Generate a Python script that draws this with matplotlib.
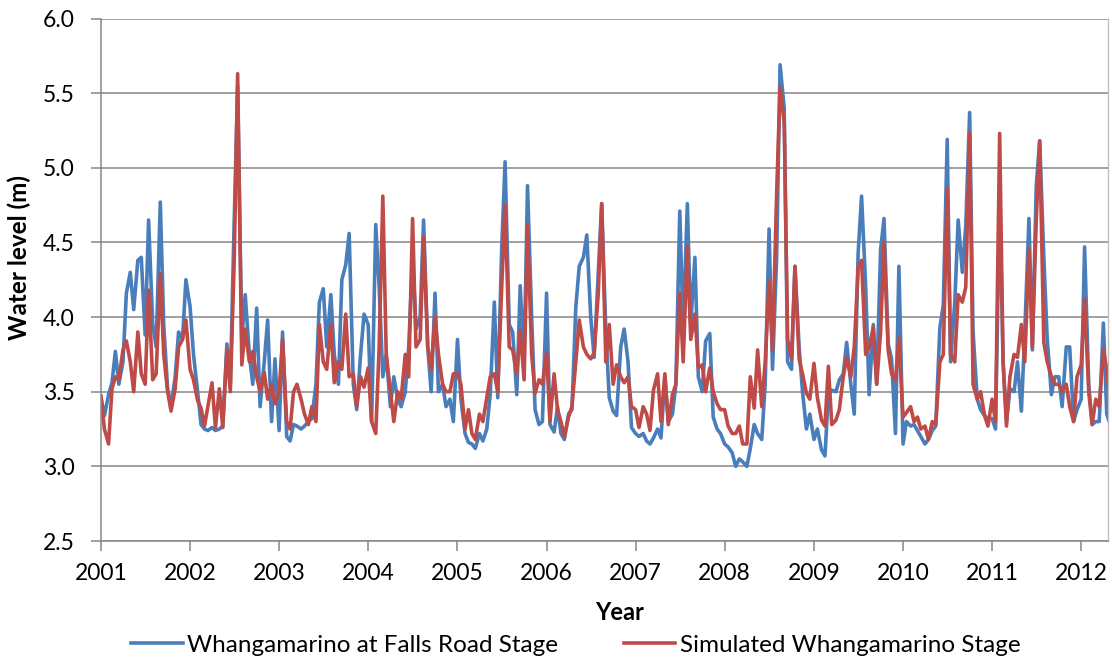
import numpy as np
import pandas as pd
import matplotlib
matplotlib.use("Agg")
import matplotlib.pyplot as plt
import matplotlib.dates as mdates
from matplotlib.ticker import FormatStrFormatter

plt.rcParams['font.family'] = ['Lato', 'DejaVu Sans']

# semi-monthly stage readings (m), 1st and 15th of each month from Jan 2001
observed = [
    3.46, 3.34, 3.48, 3.56, 3.77, 3.55, 3.70, 4.16, 4.30, 4.05, 4.38, 4.40, 3.88, 4.65, 3.95, 3.80, 4.77, 3.95, 3.52, 3.40, 3.60, 3.90, 3.85, 4.25,
    4.07, 3.75, 3.50, 3.28, 3.25, 3.24, 3.26, 3.24, 3.25, 3.27, 3.82, 3.55, 4.65, 5.55, 3.85, 4.15, 3.75, 3.55, 4.06, 3.40, 3.70, 3.98, 3.30, 3.72,
    3.24, 3.90, 3.20, 3.17, 3.28, 3.27, 3.25, 3.27, 3.30, 3.32, 3.55, 4.10, 4.19, 3.80, 4.15, 3.75, 3.55, 4.25, 4.35, 4.56, 3.55, 3.38, 3.75, 4.02,
    3.95, 3.30, 4.62, 4.20, 3.60, 3.75, 3.40, 3.60, 3.45, 3.40, 3.50, 3.80, 4.40, 3.92, 4.00, 4.65, 3.80, 3.50, 4.16, 3.50, 3.55, 3.40, 3.45, 3.30,
    3.85, 3.45, 3.22, 3.16, 3.15, 3.12, 3.22, 3.17, 3.25, 3.48, 4.10, 3.46, 4.45, 5.04, 3.95, 3.90, 3.48, 4.21, 3.70, 4.88, 4.00, 3.38, 3.28, 3.30,
    4.16, 3.28, 3.23, 3.40, 3.22, 3.18, 3.35, 3.38, 4.07, 4.34, 4.40, 4.55, 4.00, 3.73, 4.29, 4.76, 3.90, 3.46, 3.37, 3.34, 3.80, 3.92, 3.70, 3.26,
    3.22, 3.20, 3.22, 3.17, 3.15, 3.19, 3.25, 3.19, 3.60, 3.30, 3.35, 3.55, 4.71, 3.90, 4.76, 3.95, 4.40, 3.60, 3.50, 3.84, 3.89, 3.33, 3.25, 3.22,
    3.15, 3.13, 3.09, 3.00, 3.05, 3.03, 3.00, 3.12, 3.28, 3.22, 3.18, 3.55, 4.59, 3.65, 4.40, 5.69, 5.40, 3.70, 3.65, 4.34, 3.80, 3.50, 3.25, 3.35,
    3.18, 3.25, 3.11, 3.07, 3.48, 3.51, 3.50, 3.58, 3.62, 3.83, 3.55, 3.35, 4.43, 4.81, 4.20, 3.48, 3.95, 3.55, 4.45, 4.66, 3.82, 3.72, 3.22, 4.34,
    3.15, 3.30, 3.27, 3.28, 3.24, 3.20, 3.15, 3.18, 3.24, 3.27, 3.93, 4.08, 5.19, 3.70, 4.10, 4.65, 4.30, 4.61, 5.37, 3.90, 3.45, 3.38, 3.34, 3.32,
    3.32, 3.25, 4.80, 3.70, 3.30, 3.52, 3.50, 3.70, 3.37, 3.90, 4.66, 3.78, 4.88, 5.18, 4.40, 3.85, 3.48, 3.60, 3.60, 3.40, 3.80, 3.80, 3.30, 3.38,
    3.45, 4.47, 3.55, 3.28, 3.30, 3.30, 3.96, 3.35, 3.27, 3.60,
]
simulated = [
    3.47, 3.25, 3.15, 3.52, 3.60, 3.58, 3.78, 3.84, 3.70, 3.50, 3.90, 3.62, 3.55, 4.18, 3.58, 3.62, 4.29, 3.75, 3.50, 3.37, 3.52, 3.80, 3.85, 3.98,
    3.65, 3.58, 3.44, 3.39, 3.27, 3.40, 3.56, 3.26, 3.52, 3.26, 3.78, 3.50, 4.38, 5.63, 3.68, 3.92, 3.70, 3.77, 3.60, 3.50, 3.63, 3.45, 3.55, 3.42,
    3.50, 3.85, 3.30, 3.25, 3.50, 3.55, 3.45, 3.35, 3.28, 3.40, 3.30, 3.95, 3.70, 3.65, 3.95, 3.56, 3.70, 3.65, 4.02, 3.60, 3.62, 3.40, 3.60, 3.53,
    3.66, 3.30, 3.22, 3.80, 4.81, 3.75, 3.50, 3.30, 3.50, 3.45, 3.75, 3.60, 4.66, 3.80, 3.85, 4.54, 3.80, 3.65, 4.00, 3.75, 3.55, 3.50, 3.50, 3.62,
    3.62, 3.55, 3.25, 3.38, 3.22, 3.18, 3.35, 3.30, 3.46, 3.60, 3.62, 3.50, 4.19, 4.75, 3.80, 3.78, 3.62, 3.91, 3.58, 4.61, 3.75, 3.49, 3.58, 3.55,
    3.76, 3.30, 3.62, 3.38, 3.30, 3.20, 3.33, 3.40, 3.70, 3.98, 3.80, 3.75, 3.72, 3.76, 4.16, 4.76, 3.70, 3.95, 3.55, 3.68, 3.60, 3.56, 3.60, 3.40,
    3.38, 3.26, 3.40, 3.35, 3.24, 3.51, 3.62, 3.30, 3.62, 3.28, 3.48, 3.55, 4.16, 3.70, 4.47, 3.85, 4.02, 3.66, 3.68, 3.50, 3.66, 3.50, 3.42, 3.38,
    3.38, 3.27, 3.22, 3.22, 3.27, 3.15, 3.15, 3.60, 3.39, 3.78, 3.40, 3.70, 4.24, 3.78, 4.83, 5.54, 5.30, 3.85, 3.72, 4.34, 3.72, 3.62, 3.49, 3.45,
    3.69, 3.46, 3.31, 3.27, 3.67, 3.28, 3.31, 3.38, 3.60, 3.73, 3.60, 3.80, 4.33, 4.38, 3.75, 3.80, 3.93, 3.55, 3.90, 4.50, 3.78, 3.62, 3.58, 3.86,
    3.33, 3.36, 3.40, 3.30, 3.33, 3.25, 3.27, 3.18, 3.30, 3.28, 3.70, 3.75, 4.86, 3.75, 3.70, 4.15, 4.10, 4.20, 5.23, 3.55, 3.45, 3.50, 3.34, 3.27,
    3.45, 3.30, 5.23, 3.70, 3.27, 3.60, 3.75, 3.73, 3.95, 3.70, 4.46, 3.80, 4.65, 5.18, 3.83, 3.70, 3.60, 3.55, 3.55, 3.50, 3.55, 3.40, 3.30, 3.60,
    3.68, 4.12, 3.50, 3.28, 3.45, 3.40, 3.78, 3.65, 3.40, 3.55,
]
dates = pd.date_range("2001-01-01", periods=len(observed), freq="SMS")

W, H = 1112, 658
fig = plt.figure(figsize=(W / 100, H / 100), dpi=100)
ax = fig.add_axes([101 / W, 1 - 541 / H, (1108 - 101) / W, (541 - 18.5) / H])

grey = "#868686"
ax.plot(dates, observed, color="#4A7EBB", lw=2.6, label="Whangamarino at Falls Road Stage")
ax.plot(dates, simulated, color="#BE4B48", lw=2.6, label="Simulated Whangamarino Stage")

ax.set_ylim(2.5, 6.0)
ax.set_yticks(np.arange(2.5, 6.01, 0.5))
ax.yaxis.set_major_formatter(FormatStrFormatter("%.1f"))
ax.set_xlim(pd.Timestamp("2001-01-01"), pd.Timestamp("2012-04-20"))
ax.xaxis.set_major_locator(mdates.YearLocator())
ax.xaxis.set_major_formatter(mdates.DateFormatter("%Y"))

ax.grid(axis="y", color=grey, lw=1.1)
ax.set_axisbelow(True)
for side in ["left", "bottom"]:
    ax.spines[side].set_color(grey)
    ax.spines[side].set_linewidth(1.1)
ax.spines["top"].set_visible(False)
ax.spines["right"].set_color("#BFBFBF")
ax.spines["right"].set_linewidth(1.0)

ax.tick_params(axis="y", direction="out", length=7, color=grey, width=1.1, labelsize=16.5, pad=12)
ax.tick_params(axis="x", direction="out", length=7, color=grey, width=1.1, labelsize=16.5, pad=9)

fig.text(19 / W, 1 - 258 / H, "Water level (m)", rotation=90, ha="center", va="center",
         fontsize=17.5, fontweight="bold")
fig.text(620 / W, 1 - 612 / H, "Year", ha="center", va="center", fontsize=17, fontweight="bold")

fig.legend(loc="center", bbox_to_anchor=(576 / W, 1 - 645 / H), ncol=2, frameon=False,
           fontsize=17.5, handlelength=2.1, handletextpad=0.2, columnspacing=2.7)

fig.savefig("out.png", dpi=100)
